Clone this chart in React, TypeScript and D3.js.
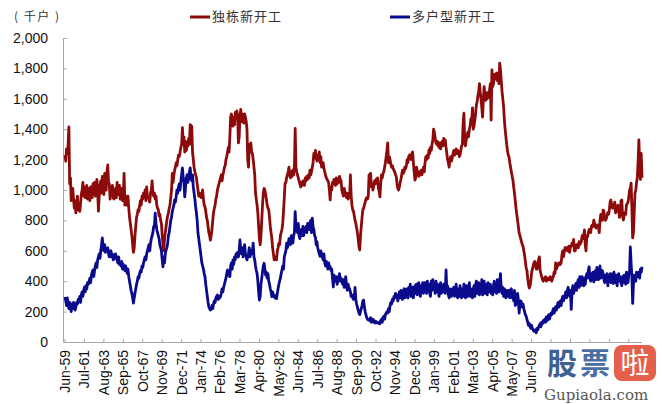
import React from "react";
import * as d3 from "d3";

// Monthly housing starts (thousand units), Jun-1959 .. Apr-2021
const singleFamily: number[] = [
  // 1959 (Jun-Dec)
  1230, 1190, 1270, 1240, 1300, 1415, 1040,
  // 1960
  1080, 930, 950, 1010, 940, 880, 930, 850, 910, 960, 870, 880,
  // 1961
  860, 910, 970, 1000, 1050, 960, 1020, 950, 1000, 1030, 940, 990,
  // 1962
  1010, 930, 1020, 980, 950, 1040, 990, 1050, 960, 1020, 1070, 990,
  // 1963
  860, 960, 1030, 1060, 980, 1090, 1030, 970, 1110, 1050, 1000, 1120,
  // 1964
  1165, 1050, 1040, 940, 1010, 970, 1030, 950, 940, 990, 1010, 950,
  // 1965
  1050, 970, 1010, 1030, 940, 990, 1010, 930, 970, 1110, 900, 960,
  // 1966
  940, 900, 960, 880, 820, 780, 740, 700, 640, 590, 620, 700,
  // 1967
  760, 820, 840, 870, 860, 900, 930, 900, 960, 940, 980, 960,
  // 1968
  1000, 930, 1020, 960, 950, 940, 920, 980, 1000, 1060, 990, 960,
  // 1969
  980, 940, 960, 900, 880, 870, 830, 840, 800, 780, 700, 640,
  // 1970
  600, 680, 720, 760, 800, 830, 850, 880, 900, 950, 1000, 1110,
  // 1971
  1050, 1100, 1130, 1150, 1180, 1160, 1200, 1230, 1220, 1250, 1280, 1300,
  // 1972
  1410, 1300, 1350, 1250, 1320, 1260, 1300, 1290, 1340, 1300, 1430, 1360,
  // 1973
  1420, 1250, 1200, 1150, 1120, 1100, 1080, 1040, 1000, 960, 980, 960,
  // 1974
  950, 970, 1000, 940, 900, 890, 860, 820, 800, 760, 720, 700,
  // 1975
  670, 700, 740, 800, 850, 880, 900, 940, 960, 1000, 1020, 1040,
  // 1976
  1060, 1080, 1100, 1060, 1100, 1120, 1150, 1160, 1200, 1220, 1250, 1280,
  // 1977
  1250, 1350, 1480, 1500, 1450, 1420, 1480, 1430, 1510, 1470, 1520, 1490,
  // 1978
  1310, 1350, 1480, 1530, 1450, 1500, 1470, 1440, 1500, 1480, 1450, 1400,
  // 1979
  1200, 1150, 1300, 1280, 1310, 1250, 1240, 1200, 1150, 1100, 980, 940,
  // 1980
  900, 850, 760, 680, 640, 700, 800, 900, 980, 1010, 1000, 970,
  // 1981
  940, 900, 880, 870, 820, 760, 720, 680, 620, 580, 540, 560,
  // 1982
  560, 540, 600, 620, 650, 640, 700, 720, 740, 780, 860, 950,
  // 1983
  1045, 1050, 1080, 1100, 1120, 1150, 1100, 1080, 1120, 1090, 1130, 1100,
  // 1984
  1150, 1405, 1150, 1120, 1100, 1080, 1060, 1040, 1020, 1050, 1030, 1060,
  // 1985
  1050, 1030, 1080, 1060, 1090, 1070, 1100, 1080, 1130, 1100, 1120, 1150,
  // 1986
  1180, 1240, 1210, 1260, 1220, 1190, 1230, 1200, 1250, 1180, 1220, 1150,
  // 1987
  1160, 1180, 1140, 1120, 1100, 1080, 1070, 1060, 1050, 1000, 935, 1020,
  // 1988
  1000, 1050, 1040, 1070, 1060, 1030, 1080, 1040, 1060, 1050, 1090, 1070,
  // 1989
  1060, 1000, 980, 960, 1010, 990, 970, 950, 980, 940, 960, 950,
  // 1990
  1100, 960, 900, 870, 860, 830, 800, 780, 750, 720, 680, 630,
  // 1991
  605, 700, 760, 820, 870, 880, 900, 920, 940, 950, 940, 960,
  // 1992
  1100, 1060, 1110, 1020, 1040, 1000, 1030, 1060, 1040, 1070, 1050, 1080,
  // 1993
  1010, 990, 955, 1040, 1100, 1080, 1110, 1120, 1150, 1180, 1220, 1260,
  // 1994
  1310, 1180, 1220, 1200, 1170, 1150, 1160, 1140, 1130, 1120, 1100, 1090,
  // 1995
  1040, 1010, 1000, 1020, 1050, 1070, 1100, 1130, 1110, 1120, 1150, 1140,
  // 1996
  1160, 1200, 1180, 1220, 1230, 1210, 1200, 1240, 1250, 1180, 1120, 1065,
  // 1997
  1080, 1150, 1130, 1110, 1090, 1100, 1120, 1130, 1100, 1130, 1150, 1120,
  // 1998
  1180, 1220, 1200, 1230, 1210, 1263, 1240, 1280, 1260, 1300, 1330, 1400,
  // 1999
  1380, 1340, 1310, 1300, 1320, 1290, 1280, 1310, 1270, 1300, 1320, 1290,
  // 2000
  1340, 1300, 1330, 1280, 1240, 1200, 1180, 1150, 1200, 1220, 1190, 1210,
  // 2001
  1240, 1260, 1230, 1250, 1270, 1240, 1260, 1250, 1220, 1230, 1260, 1290,
  // 2002
  1300, 1440, 1505, 1320, 1290, 1330, 1360, 1380, 1350, 1400, 1420, 1470,
  // 2003
  1450, 1540, 1400, 1420, 1460, 1500, 1560, 1580, 1620, 1650, 1700, 1640,
  // 2004
  1600, 1540, 1480, 1600, 1680, 1620, 1590, 1640, 1600, 1640, 1610, 1660,
  // 2005
  1700, 1460, 1790, 1680, 1700, 1760, 1740, 1730, 1770, 1720, 1750, 1700,
  // 2006
  1835, 1790, 1720, 1650, 1600, 1550, 1460, 1400, 1350, 1300, 1260, 1230,
  // 2007
  1217, 1180, 1150, 1120, 1090, 1065, 1020, 980, 930, 880, 840, 800,
  // 2008
  760, 717, 700, 680, 660, 640, 630, 600, 570, 530, 490, 470,
  // 2009
  420, 380, 355, 370, 400, 453, 480, 500, 520, 530, 510, 480,
  // 2010
  480, 520, 540, 560, 470, 450, 430, 410, 400, 420, 420, 430,
  // 2011
  400, 420, 410, 420, 410, 430, 420, 400, 420, 430, 460, 450,
  // 2012
  520, 480, 500, 500, 520, 520, 510, 520, 570, 600, 560, 590,
  // 2013
  620, 620, 620, 600, 620, 630, 590, 630, 630, 650, 640, 675,
  // 2014
  600, 600, 620, 640, 630, 620, 660, 640, 650, 660, 700, 680,
  // 2015
  700, 737, 640, 600, 700, 690, 720, 740, 740, 720, 760, 770,
  // 2016
  760, 802, 780, 760, 750, 770, 760, 760, 720, 800, 840, 820,
  // 2017
  800, 868, 860, 820, 800, 810, 830, 850, 840, 870, 920, 934,
  // 2018
  900, 880, 890, 900, 920, 850, 860, 880, 900, 870, 820, 840,
  // 2019
  930, 935, 830, 802, 830, 850, 840, 900, 910, 920, 950, 1000,
  // 2020
  1010, 1045, 880, 685, 720, 850, 980, 1000, 1050, 1080, 1190, 1330,
  // 2021 (Jan-Apr)
  1160, 1070, 1240, 1080,
];

const multiFamily: number[] = [
  // 1959 (Jun-Dec)
  296, 270, 240, 290, 250, 220, 260,
  // 1960
  230, 200, 250, 220, 260, 240, 210, 230, 260, 250, 280, 270,
  // 1961
  300, 260, 310, 330, 300, 340, 360, 330, 370, 350, 390, 380,
  // 1962
  400, 420, 390, 440, 460, 474, 430, 470, 500, 520, 490, 540,
  // 1963
  560, 580, 550, 600, 640, 685, 620, 600, 640, 590, 610, 600,
  // 1964
  620, 580, 560, 585, 600, 560, 580, 540, 570, 550, 580, 560,
  // 1965
  540, 520, 560, 510, 520, 500, 530, 480, 510, 490, 470, 500,
  // 1966
  470, 452, 480, 430, 400, 370, 340, 320, 290, 256, 290, 320,
  // 1967
  350, 380, 400, 430, 420, 450, 470, 460, 500, 490, 520, 540,
  // 1968
  560, 540, 580, 600, 620, 640, 600, 650, 680, 700, 720, 760,
  // 1969
  760, 848, 780, 740, 720, 700, 680, 640, 620, 600, 540, 495,
  // 1970
  560, 520, 580, 605, 620, 650, 700, 720, 760, 800, 820, 860,
  // 1971
  880, 900, 934, 920, 960, 1000, 980, 1020, 1040, 1000, 1060, 1100,
  // 1972
  1145, 1080, 1050, 955, 1020, 1080, 1100, 1050, 1080, 1120, 1145, 1080,
  // 1973
  1060, 1100, 1020, 980, 940, 890, 850, 800, 717, 680, 640, 600,
  // 1974
  560, 520, 500, 480, 450, 430, 380, 340, 300, 260, 230, 220,
  // 1975
  210, 215, 240, 220, 250, 270, 260, 290, 300, 310, 280, 300,
  // 1976
  290, 300, 320, 350, 330, 360, 380, 400, 420, 450, 474, 440,
  // 1977
  460, 430, 500, 520, 480, 540, 510, 560, 542, 580, 560, 590,
  // 1978
  560, 600, 671, 600, 580, 620, 560, 600, 640, 580, 560, 540,
  // 1979
  560, 580, 620, 560, 600, 580, 600, 650, 560, 540, 500, 470,
  // 1980
  452, 400, 330, 276, 300, 380, 420, 460, 500, 518, 480, 440,
  // 1981
  460, 420, 450, 400, 380, 350, 330, 298, 330, 300, 310, 290,
  // 1982
  300, 285, 320, 350, 380, 400, 420, 450, 474, 500, 480, 560,
  // 1983
  580, 600, 650, 620, 640, 680, 660, 640, 700, 680, 650, 700,
  // 1984
  720, 857, 760, 740, 720, 780, 700, 680, 720, 740, 700, 760,
  // 1985
  700, 740, 730, 760, 720, 780, 760, 740, 780, 800, 720, 815,
  // 1986
  760, 740, 700, 690, 640, 660, 620, 600, 580, 563, 600, 580,
  // 1987
  560, 540, 580, 520, 500, 530, 510, 480, 520, 500, 495, 470,
  // 1988
  480, 420, 362, 440, 420, 400, 430, 380, 410, 420, 450, 400,
  // 1989
  420, 400, 380, 410, 360, 380, 430, 370, 340, 380, 360, 350,
  // 1990
  330, 300, 310, 290, 280, 300, 360, 280, 250, 230, 210, 190,
  // 1991
  180, 200, 220, 240, 270, 276, 230, 200, 180, 160, 150, 145,
  // 1992
  150, 140, 160, 130, 140, 150, 130, 140, 125, 135, 130, 125,
  // 1993
  123, 130, 120, 140, 150, 130, 160, 170, 150, 180, 190, 200,
  // 1994
  190, 220, 200, 240, 260, 250, 280, 270, 300, 290, 320, 300,
  // 1995
  310, 270, 300, 330, 290, 340, 310, 280, 330, 350, 290, 320,
  // 1996
  350, 300, 290, 360, 320, 380, 300, 340, 360, 290, 330, 370,
  // 1997
  320, 380, 310, 350, 390, 320, 300, 370, 330, 390, 320, 360,
  // 1998
  390, 330, 320, 400, 340, 380, 320, 300, 400, 340, 410, 350,
  // 1999
  370, 320, 400, 330, 380, 340, 300, 360, 390, 320, 370, 330,
  // 2000
  380, 330, 320, 474, 340, 370, 310, 290, 350, 330, 300, 350,
  // 2001
  310, 360, 300, 340, 380, 310, 290, 350, 300, 370, 320, 290,
  // 2002
  350, 300, 380, 310, 290, 370, 320, 300, 360, 390, 300, 350,
  // 2003
  310, 290, 350, 370, 300, 380, 400, 320, 360, 390, 310, 370,
  // 2004
  330, 410, 310, 370, 400, 320, 380, 340, 310, 390, 360, 330,
  // 2005
  380, 320, 360, 310, 370, 400, 330, 380, 320, 410, 370, 330,
  // 2006
  390, 450, 350, 320, 360, 300, 350, 310, 290, 340, 300, 330,
  // 2007
  340, 290, 330, 350, 290, 320, 270, 340, 240, 310, 250, 320,
  // 2008
  280, 190, 250, 270, 260, 230, 250, 220, 200, 180, 170, 150,
  // 2009
  130, 110, 123, 100, 90, 110, 90, 80, 70, 75, 80, 60,
  // 2010
  90, 80, 100, 110, 120, 100, 130, 120, 140, 130, 150, 130,
  // 2011
  165, 140, 160, 180, 150, 170, 190, 180, 200, 220, 190, 210,
  // 2012
  232, 210, 240, 260, 230, 250, 270, 240, 280, 300, 270, 290,
  // 2013
  310, 330, 290, 340, 360, 320, 300, 340, 215, 330, 370, 320,
  // 2014
  340, 370, 385, 340, 390, 410, 360, 430, 370, 410, 430, 380,
  // 2015
  370, 420, 380, 430, 450, 420, 470, 495, 420, 400, 450, 410,
  // 2016
  460, 395, 440, 470, 410, 490, 430, 410, 470, 500, 420, 450,
  // 2017
  470, 450, 410, 390, 440, 410, 450, 370, 430, 400, 450, 390,
  // 2018
  440, 450, 385, 460, 410, 390, 440, 370, 430, 450, 400, 430,
  // 2019
  390, 370, 430, 390, 440, 400, 380, 460, 410, 390, 440, 470,
  // 2020
  625, 520, 430, 254, 380, 440, 420, 400, 460, 450, 430, 460,
  // 2021 (Jan-Apr)
  420, 480, 460, 495,
];

// x tick labels every 25 months from Jun-59 (labels after Jun-09 are covered)
const xTickLabels: string[] = [
  "Jun-59", "Jul-61", "Aug-63", "Sep-65", "Oct-67", "Nov-69", "Dec-71",
  "Jan-74", "Feb-76", "Mar-78", "Apr-80", "May-82", "Jun-84", "Jul-86",
  "Aug-88", "Sep-90", "Oct-92", "Nov-94", "Dec-96", "Jan-99", "Feb-01",
  "Mar-03", "Apr-05", "May-07", "Jun-09",
];
const xTickCount = 30;
const xTickStep = 25;
const yTicks: number[] = [0, 200, 400, 600, 800, 1000, 1200, 1400, 1600, 1800, 2000];

const seriesNames = ["独栋新开工", "多户型新开工"];
const seriesColors = ["#8c0a0a", "#0a0a8c"];
const unitLabel = "( 千户 )";

export default function App() {
  const W = 662;
  const H = 404;
  const nMonths = singleFamily.length - 1;
  const x = d3.scaleLinear().domain([0, nMonths]).range([65, 642]);
  const y = d3.scaleLinear().domain([0, 2000]).range([342, 38]);
  const line = d3
    .line<number>()
    .x((_, i) => x(i))
    .y((d) => y(d));

  const font = "'Liberation Sans', Arial, sans-serif";
  const cjk = "'Noto Sans CJK SC', sans-serif";
  const axisColor = "#a6a6a6";
  const xTicks = d3.range(xTickCount).map((i) => i * xTickStep);

  return (
    <svg
      width={W}
      height={H}
      style={{ position: "absolute", left: 0, top: 0, background: "#fff" }}
      fontFamily={font}
    >
      {/* unit label */}
      <text x={14} y={18} fontSize={12} letterSpacing={1.5} fontFamily={cjk} fill="#333" dominantBaseline="middle">
        {unitLabel}
      </text>
      {/* legend */}
      {seriesNames.map((name, i) => {
        const lx = i === 0 ? 190 : 390;
        return (
          <g key={name}>
            <line x1={lx} x2={lx + 20} y1={17} y2={17} stroke={seriesColors[i]} strokeWidth={3} />
            <text
              x={lx + 22}
              y={17}
              fontSize={13}
              letterSpacing={1}
              fontFamily={cjk}
              fill="#333"
              dominantBaseline="middle"
            >
              {name}
            </text>
          </g>
        );
      })}

      {/* y axis */}
      <line x1={63.5} x2={63.5} y1={y(2000)} y2={y(0)} stroke={axisColor} />
      {yTicks.map((t) => (
        <g key={t}>
          <line x1={63.5} x2={67} y1={y(t) + 0.5} y2={y(t) + 0.5} stroke={axisColor} />
          <text x={48} y={y(t)} dy="0.35em" textAnchor="end" fontSize={14} fill="#111">
            {d3.format(",")(t)}
          </text>
        </g>
      ))}

      {/* x axis */}
      <line x1={63.5} x2={642} y1={342.5} y2={342.5} stroke={axisColor} />
      {xTicks.map((m, i) => (
        <g key={m}>
          <line x1={x(m)} x2={x(m)} y1={342.5} y2={339} stroke={axisColor} />
          {i < xTickLabels.length && (
            <text
              transform={`translate(${x(m)},350) rotate(-90)`}
              dy="0.35em"
              textAnchor="end"
              fontSize={14}
              fill="#111"
            >
              {xTickLabels[i]}
            </text>
          )}
        </g>
      ))}

      {/* series */}
      <path d={line(singleFamily) || ""} fill="none" stroke={seriesColors[0]} strokeWidth={2.8} strokeLinejoin="round" />
      <path d={line(multiFamily) || ""} fill="none" stroke={seriesColors[1]} strokeWidth={2.8} strokeLinejoin="round" />

      {/* watermark */}
      <g>
        <text x={547} y={374} fontSize={30} fontWeight="bold" fontFamily={cjk} fill="#3f5f93">
          股
        </text>
        <text x={580} y={374} fontSize={30} fontWeight="bold" fontFamily={cjk} fill="#4a6ea6">
          票
        </text>
        <rect x={614} y={345} width={42} height={36} rx={8} fill="#e4604c" />
        <text x={635} y={374} fontSize={29} textAnchor="middle" fontFamily={cjk} fill="#fff">
          啦
        </text>
        <text x={544} y={400} fontSize={15} fontFamily="'DejaVu Serif', serif" fill="#555">
          Gupiaola.com
        </text>
      </g>
    </svg>
  );
}
